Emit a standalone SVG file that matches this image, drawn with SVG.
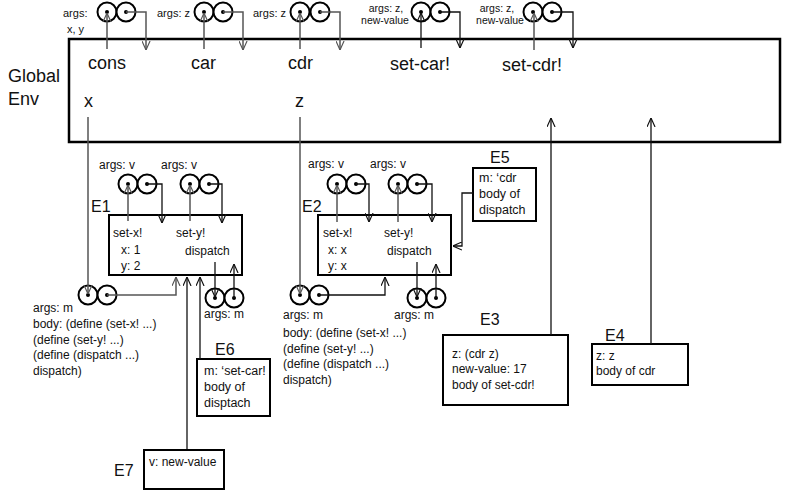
<svg xmlns="http://www.w3.org/2000/svg" width="787" height="496" viewBox="0 0 787 496">
<defs>
<marker id="ag" viewBox="0 0 10 10" refX="10" refY="5" markerWidth="9" markerHeight="9" markerUnits="userSpaceOnUse" orient="auto">
<path d="M0,0.5 L10,5 L0,9.5" fill="none" stroke="#555" stroke-width="1.3"/>
</marker>
<marker id="ab" viewBox="0 0 10 10" refX="10" refY="5" markerWidth="9" markerHeight="9" markerUnits="userSpaceOnUse" orient="auto">
<path d="M0,0.5 L10,5 L0,9.5" fill="none" stroke="#111" stroke-width="1.3"/>
</marker>
</defs>
<style>
text{font-family:"Liberation Sans",Arial,sans-serif;fill:#111}
.big{font-size:18px}
.lab{font-size:16px}
.s{font-size:12px}
.m{font-size:12.5px}
.t{font-size:11px}
.tt{font-size:10.5px}
.box{fill:#fff;stroke:#000;stroke-width:2}
.gbox{fill:#fff;stroke:#000;stroke-width:2.5}
.c{fill:#fff;stroke:#000;stroke-width:2}
.d{fill:#000}
.g{fill:none;stroke:#555;stroke-width:1.5;marker-end:url(#ag)}
.k{fill:none;stroke:#111;stroke-width:1.3;marker-end:url(#ab)}
</style>
<rect width="787" height="496" fill="#fff"/>

<g id="global-env">
<rect class="gbox" x="69" y="39" width="711" height="103"/>
<text class="big" x="8" y="82">Global</text>
<text class="big" x="8" y="105">Env</text>
<text class="big" x="88" y="69">cons</text>
<text class="big" x="191" y="69">car</text>
<text class="big" x="288" y="69">cdr</text>
<text class="big" x="390" y="70">set-car!</text>
<text class="big" x="502" y="71">set-cdr!</text>
<text class="big" x="84" y="107">x</text>
<text class="big" x="295" y="107">z</text>
</g>

<g id="cons-proc">
<circle class="c" cx="107" cy="12" r="9.5"/><circle class="c" cx="126" cy="12" r="9.5"/>
<circle class="d" cx="107" cy="12" r="2"/><circle class="d" cx="126" cy="12" r="2"/>
<text class="t" x="63" y="17">args:</text>
<text class="t" x="67" y="33">x, y</text>
</g>
<g id="car-proc">
<circle class="c" cx="204" cy="12" r="9.5"/><circle class="c" cx="223" cy="12" r="9.5"/>
<circle class="d" cx="204" cy="12" r="2"/><circle class="d" cx="223" cy="12" r="2"/>
<text class="t" x="157" y="17">args: z</text>
</g>
<g id="cdr-proc">
<circle class="c" cx="300" cy="12" r="9.5"/><circle class="c" cx="320" cy="12" r="9.5"/>
<circle class="d" cx="300" cy="12" r="2"/><circle class="d" cx="320" cy="12" r="2"/>
<text class="t" x="253" y="17">args: z</text>
</g>
<g id="set-car-proc">
<circle class="c" cx="421" cy="12" r="9.5"/><circle class="c" cx="440" cy="12" r="9.5"/>
<circle class="d" cx="421" cy="12" r="2"/><circle class="d" cx="440" cy="12" r="2"/>
<text class="tt" x="386" y="12" text-anchor="middle">args: z,</text>
<text class="tt" x="385" y="24" text-anchor="middle">new-value</text>
</g>
<g id="set-cdr-proc">
<circle class="c" cx="533" cy="12" r="9.5"/><circle class="c" cx="552" cy="12" r="9.5"/>
<circle class="d" cx="533" cy="12" r="2"/><circle class="d" cx="552" cy="12" r="2"/>
<text class="tt" x="497" y="12" text-anchor="middle">args: z,</text>
<text class="tt" x="500" y="24" text-anchor="middle">new-value</text>
</g>

<g id="E1">
<rect class="box" x="109" y="215" width="133" height="60"/>
<text class="lab" x="91" y="212">E1</text>
<text class="s" x="113" y="237">set-x!</text>
<text class="s" x="121" y="254">x: 1</text>
<text class="s" x="121" y="270">y: 2</text>
<text class="s" x="176" y="237">set-y!</text>
<text class="s" x="185" y="255">dispatch</text>
</g>
<g id="E1-set-x">
<circle class="c" cx="128" cy="184" r="9.5"/><circle class="c" cx="147" cy="184" r="9.5"/>
<circle class="d" cx="128" cy="184" r="2"/><circle class="d" cx="147" cy="184" r="2"/>
<text class="s" x="99" y="169">args: v</text>
</g>
<g id="E1-set-y">
<circle class="c" cx="190" cy="184" r="9.5"/><circle class="c" cx="209" cy="184" r="9.5"/>
<circle class="d" cx="190" cy="184" r="2"/><circle class="d" cx="209" cy="184" r="2"/>
<text class="s" x="161" y="169">args: v</text>
</g>
<g id="x-cons-obj">
<circle class="c" cx="88" cy="295" r="9.5"/><circle class="c" cx="107" cy="295" r="9.5"/>
<circle class="d" cx="88" cy="295" r="2"/><circle class="d" cx="107" cy="295" r="2"/>
<text class="s" x="33" y="312">args: m</text>
<text class="s" x="33" y="328">body: (define (set-x! ...)</text>
<text class="s" x="33" y="344">(define (set-y! ...)</text>
<text class="s" x="33" y="359">(define (dispatch ...)</text>
<text class="s" x="33" y="375">dispatch)</text>
</g>
<g id="E1-dispatch">
<circle class="c" cx="215" cy="298" r="9.5"/><circle class="c" cx="234" cy="298" r="9.5"/>
<circle class="d" cx="215" cy="298" r="2"/><circle class="d" cx="234" cy="298" r="2"/>
<text class="s" x="204" y="318">args: m</text>
</g>

<g id="E2">
<rect class="box" x="318" y="215" width="133" height="60"/>
<text class="lab" x="302" y="212">E2</text>
<text class="s" x="323" y="237">set-x!</text>
<text class="s" x="328" y="254">x: x</text>
<text class="s" x="328" y="270">y: x</text>
<text class="s" x="384" y="237">set-y!</text>
<text class="s" x="387" y="255">dispatch</text>
</g>
<g id="E2-set-x">
<circle class="c" cx="337" cy="184" r="9.5"/><circle class="c" cx="356" cy="184" r="9.5"/>
<circle class="d" cx="337" cy="184" r="2"/><circle class="d" cx="356" cy="184" r="2"/>
<text class="s" x="308" y="168">args: v</text>
</g>
<g id="E2-set-y">
<circle class="c" cx="398" cy="184" r="9.5"/><circle class="c" cx="417" cy="184" r="9.5"/>
<circle class="d" cx="398" cy="184" r="2"/><circle class="d" cx="417" cy="184" r="2"/>
<text class="s" x="370" y="168">args: v</text>
</g>
<g id="z-cons-obj">
<circle class="c" cx="300" cy="295" r="9.5"/><circle class="c" cx="319" cy="295" r="9.5"/>
<circle class="d" cx="300" cy="295" r="2"/><circle class="d" cx="319" cy="295" r="2"/>
<text class="s" x="283" y="319">args: m</text>
<text class="s" x="283" y="337">body: (define (set-x! ...)</text>
<text class="s" x="283" y="353">(define (set-y! ...)</text>
<text class="s" x="283" y="368">(define (dispatch ...)</text>
<text class="s" x="283" y="384">dispatch)</text>
</g>
<g id="E2-dispatch">
<circle class="c" cx="417" cy="298" r="9.5"/><circle class="c" cx="436" cy="298" r="9.5"/>
<circle class="d" cx="417" cy="298" r="2"/><circle class="d" cx="436" cy="298" r="2"/>
<text class="s" x="394" y="319">args: m</text>
</g>

<g id="E3">
<rect class="box" x="443" y="335" width="125" height="70"/>
<text class="lab" x="480" y="325">E3</text>
<text class="s" x="452" y="358">z: (cdr z)</text>
<text class="s" x="452" y="373">new-value: 17</text>
<text class="s" x="452" y="389">body of set-cdr!</text>
</g>
<g id="E4">
<rect class="box" x="592" y="344" width="96" height="41"/>
<text class="lab" x="605" y="341">E4</text>
<text class="s" x="596" y="360">z: z</text>
<text class="s" x="596" y="375">body of cdr</text>
</g>
<g id="E5">
<rect class="box" x="473" y="168" width="63" height="53"/>
<text class="lab" x="490" y="163">E5</text>
<text class="m" x="479" y="182">m: ‘cdr</text>
<text class="m" x="479" y="198">body of</text>
<text class="m" x="479" y="214">dispatch</text>
</g>
<g id="E6">
<rect class="box" x="197" y="359" width="73" height="57"/>
<text class="lab" x="215" y="355">E6</text>
<text class="m" x="204" y="375">m: ‘set-car!</text>
<text class="m" x="204" y="391">body of</text>
<text class="m" x="204" y="407">disptach</text>
</g>
<g id="E7">
<rect class="box" x="144" y="450" width="80" height="39"/>
<text class="lab" x="114" y="476">E7</text>
<text class="s" x="149" y="466">v: new-value</text>
</g>

<g id="connectors">
<path class="g" d="M107,49 V13"/>
<path class="g" d="M126,12 H146 V50"/>
<path class="g" d="M204,49 V13"/>
<path class="g" d="M223,12 H243 V50"/>
<path class="g" d="M300,49 V13"/>
<path class="g" d="M320,12 H340 V50"/>
<path class="k" d="M421,48 V13"/>
<path class="k" d="M440,12 H460 V48"/>
<path class="g" d="M534,50 V13"/>
<path class="k" d="M552,12 H573 V48"/>
<path class="g" d="M88,117 V294"/>
<path class="g" d="M300,117 V294"/>
<path class="g" d="M128,221 V185"/>
<path class="k" d="M147,184 H162 V223"/>
<path class="g" d="M190,221 V185"/>
<path class="k" d="M209,184 H222 V223"/>
<path class="g" d="M107,295 H176 V277"/>
<path class="k" d="M187,449 V277"/>
<path class="k" d="M200,359 V277"/>
<path class="k" d="M215,262 V297"/>
<path class="k" d="M234,298 V264"/>
<path class="g" d="M337,222 V185"/>
<path class="k" d="M356,184 H369 V222"/>
<path class="g" d="M398,222 V185"/>
<path class="k" d="M417,184 H432 V222"/>
<path class="k" d="M319,295 H385 V277"/>
<path class="k" d="M417,262 V297"/>
<path class="k" d="M436,298 V264"/>
<path class="k" d="M473,193 H462 V246 H453"/>
<path class="k" d="M551,335 V118"/>
<path class="k" d="M651,344 V118"/>
</g>
</svg>
